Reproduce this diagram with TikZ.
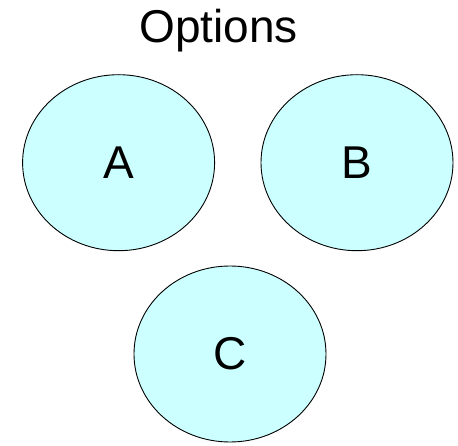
\documentclass[tikz,border=0pt]{standalone}
\usepackage{fontspec}
\setmainfont{Liberation Sans}
\usetikzlibrary{shapes.geometric}
\definecolor{optfill}{HTML}{CCFFFF}
\tikzset{
        x=1pt, y=1pt,
        option/.style={ellipse, draw=black, line width=0.9pt, fill=optfill, inner sep=0pt,
          minimum width=192pt, minimum height=176pt, font=\fontsize{46}{50}\selectfont},
        heading/.style={anchor=base, inner sep=0pt, font=\fontsize{46}{50}\selectfont}
          }
\begin{document}
\begin{tikzpicture}
            \useasboundingbox (0,0) rectangle (458,445);
            \node[heading] (title) at (218.5,402) {Options};
            \node[option] (a) at (118.6,282.3) {A};
            \node[option] (b) at (357,282.3) {B};
            \node[option] (c) at (230,91) {C};
          \end{tikzpicture}
\end{document}
